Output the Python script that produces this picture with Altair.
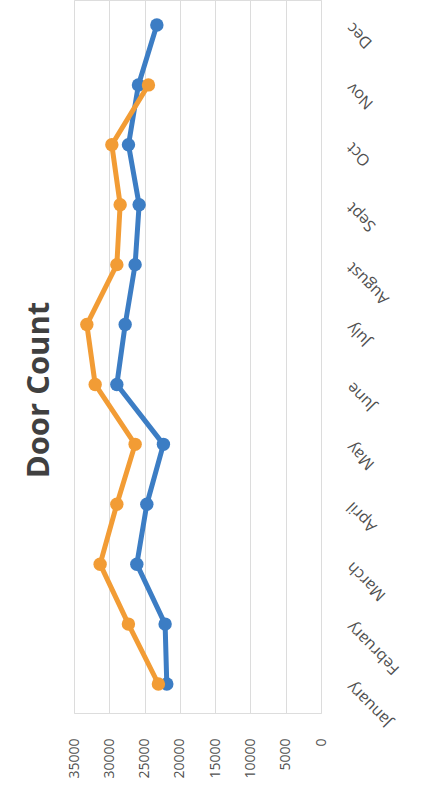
import altair as alt
import pandas as pd

# Monthly door counts for two series (December only recorded for the first)
months = ["January", "February", "March", "April", "May", "June",
          "July", "August", "Sept", "Oct", "Nov", "Dec"]
series_names = ["Series 1", "Series 2"]
series_1 = [21850, 22090, 26100, 24680, 22330, 28930,
            27750, 26340, 25770, 27280, 25870, 23260]
series_2 = [23040, 27290, 31300, 28930, 26340, 32000,
            33180, 28930, 28460, 29640, 24450, None]
value_ticks = [0, 5000, 10000, 15000, 20000, 25000, 30000, 35000]
colors = ["#3c7dc4", "#f29c35"]

rows = []
for name, vals in zip(series_names, [series_1, series_2]):
    for i, (m, v) in enumerate(zip(months, vals)):
        if v is not None:
            rows.append({"series": name, "month": m, "idx": i, "count": v})
df = pd.DataFrame(rows)

label_font = "Open Sans"
month_expr = "[" + ",".join("'%s'" % m for m in months) + "][datum.value]"

base = alt.Chart(df).encode(
    x=alt.X(
        "count:Q",
        scale=alt.Scale(domain=[0, 35000], reverse=True, nice=False),
        axis=alt.Axis(
            orient="bottom", values=value_ticks, format="d", labelAngle=270,
            labelPadding=25, ticks=False, domain=False,
            gridColor="#dcdcdc", gridWidth=1,
            labelFont=label_font, labelFontSize=14, labelColor="#505050",
            title=None,
        ),
    ),
    y=alt.Y(
        "idx:Q",
        scale=alt.Scale(domain=[-0.484, 11.417], nice=False, zero=False),
        axis=alt.Axis(
            orient="right", values=list(range(len(months))),
            labelExpr=month_expr, labelAngle=225, labelAlign="right",
            labelBaseline="middle", labelPadding=28, grid=False,
            ticks=False, domain=False,
            labelFont=label_font, labelFontSize=16, labelColor="#505050",
            title=None,
        ),
    ),
    order=alt.Order("idx:Q"),
    color=alt.Color("series:N",
                    scale=alt.Scale(domain=series_names, range=colors),
                    legend=None),
)

layers = []
for name in series_names:
    sub = base.transform_filter(alt.datum.series == name)
    layers.append(sub.mark_line(strokeWidth=5, strokeCap="round", strokeJoin="round"))
    layers.append(sub.mark_circle(size=180, opacity=1))

title = alt.Chart(pd.DataFrame({"t": ["Door Count"]})).mark_text(
    angle=270, font=label_font, fontSize=31, fontWeight="bold",
    color="#404040", align="center", baseline="middle",
).encode(x=alt.value(-34), y=alt.value(390), text="t:N")

chart = alt.layer(*layers, title).properties(
    width=247, height=713,
    autosize=alt.AutoSizeParams(type="none"),
    padding={"left": 74, "top": 0, "right": 111, "bottom": 99},
).configure_view(stroke=None).configure(background="white")

chart.save("out.html", embed_options={"renderer": "svg", "actions": False})
